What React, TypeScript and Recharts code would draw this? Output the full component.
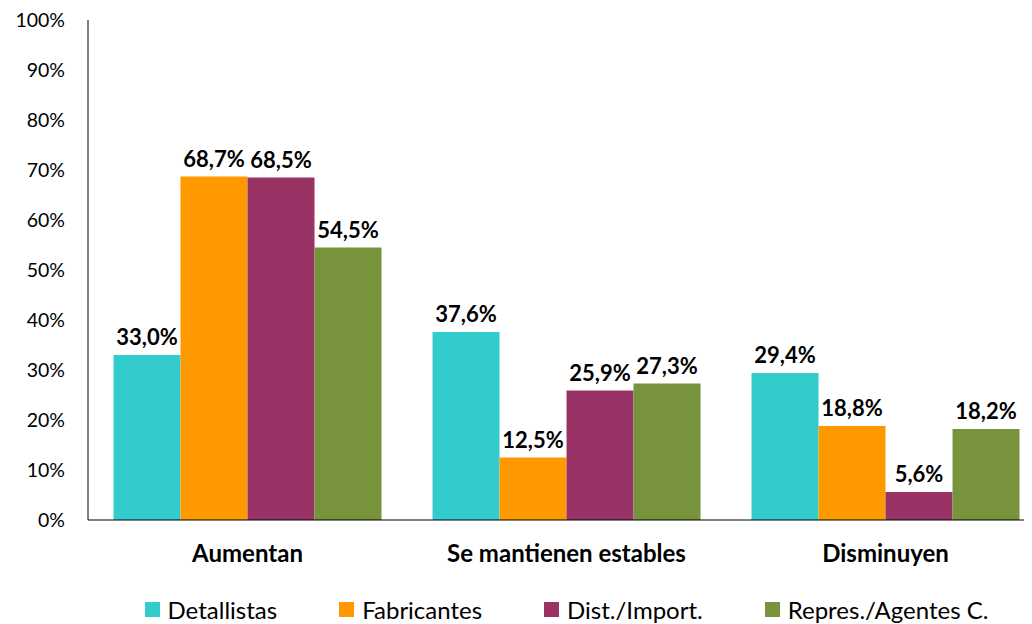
import React from "react";
import { BarChart, Bar, XAxis, YAxis, Legend, LabelList } from "recharts";

const categories = ["Aumentan", "Se mantienen estables", "Disminuyen"];
const detallistas = [33.0, 37.6, 29.4];
const fabricantes = [68.7, 12.5, 18.8];
const distImport = [68.5, 25.9, 5.6];
const represAgentes = [54.5, 27.3, 18.2];
const yTicks = [0, 10, 20, 30, 40, 50, 60, 70, 80, 90, 100];

const seriesDefs = [
  { key: "detallistas", name: "Detallistas", color: "#33CCCC", values: detallistas },
  { key: "fabricantes", name: "Fabricantes", color: "#FF9900", values: fabricantes },
  { key: "distImport", name: "Dist./Import.", color: "#993366", values: distImport },
  { key: "represAgentes", name: "Repres./Agentes C.", color: "#77933C", values: represAgentes },
];

const data = categories.map((c, i) => {
  const row: any = { category: c };
  seriesDefs.forEach((s) => (row[s.key] = s.values[i]));
  return row;
});

const FONT = "Lato, 'Open Sans', sans-serif";
const fmt = (v: any) => `${Number(v).toFixed(1).replace(".", ",")}%`;

const renderLegend = () => (
  <div
    style={{
      display: "flex",
      justifyContent: "center",
      alignItems: "center",
      gap: 62,
      height: 25,
      fontFamily: FONT,
      fontSize: 24,
      color: "#000",
    }}
  >
    {seriesDefs.map((s) => (
      <div key={s.key} style={{ display: "flex", alignItems: "center" }}>
        <span style={{ display: "inline-block", width: 15, height: 15, background: s.color, marginRight: 8 }} />
        <span>{s.name}</span>
      </div>
    ))}
  </div>
);

export default function App() {
  return (
    <div style={{ width: 1024, height: 616, overflow: "hidden" }}>
      <BarChart
        width={1040}
        height={616}
        data={data}
        margin={{ top: 12, right: 3, left: 0, bottom: 0 }}
        barCategoryGap="8%"
        barGap={0}
      >
        <XAxis
          dataKey="category"
          axisLine={{ stroke: "#000", strokeWidth: 1 }}
          tickLine={false}
          tickMargin={19}
          height={79}
          tick={{ fontFamily: FONT, fontSize: 24, fontWeight: 700, fill: "#000" }}
          interval={0}
        />
        <YAxis
          domain={[0, 100]}
          ticks={yTicks}
          width={80}
          axisLine={{ stroke: "#000", strokeWidth: 1 }}
          tickLine={false}
          tickMargin={17}
          tickFormatter={(v: number) => `${v}%`}
          tick={{ fontFamily: FONT, fontSize: 19.5, fill: "#000" }}
        />
        <Legend content={renderLegend} verticalAlign="bottom" wrapperStyle={{ left: 80, width: 957, bottom: 2, height: 25 }} />
        {seriesDefs.map((s) => (
          <Bar key={s.key} dataKey={s.key} name={s.name} fill={s.color} isAnimationActive={false}>
            <LabelList
              dataKey={s.key}
              position="top"
              offset={10}
              formatter={fmt}
              style={{ fontFamily: FONT, fontSize: 22, fontWeight: 700, fill: "#000" }}
            />
          </Bar>
        ))}
      </BarChart>
    </div>
  );
}
